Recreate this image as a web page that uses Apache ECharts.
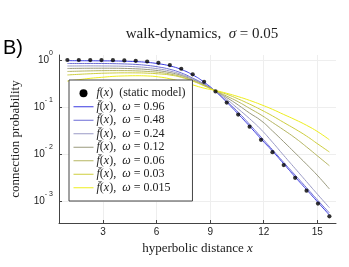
<!DOCTYPE html>
<html><head><meta charset="utf-8">
<script src="https://cdn.jsdelivr.net/npm/echarts@6/dist/echarts.min.js"></script>
<style>html,body{margin:0;padding:0;background:#fff}#c{width:349px;height:267px}</style>
</head><body><div id="c"></div>
<script>
const xs = [1.00, 1.64, 2.28, 2.91, 3.55, 4.19, 4.83, 5.47, 6.10, 6.74, 7.38, 8.02, 8.66, 9.30, 9.93, 10.57, 11.21, 11.85, 12.49, 13.12, 13.76, 14.40, 15.04, 15.68];
const staticModel = [0.999, 0.998, 0.997, 0.994, 0.989, 0.980, 0.961, 0.927, 0.868, 0.780, 0.651, 0.495, 0.342, 0.214, 0.124, 0.069, 0.038, 0.020, 0.0109, 0.0058, 0.0031, 0.00165, 0.00088, 0.00047];
const w096 = [0.966, 0.964, 0.962, 0.957, 0.953, 0.942, 0.923, 0.889, 0.832, 0.748, 0.628, 0.482, 0.337, 0.214, 0.126, 0.0708, 0.0389, 0.0209, 0.0115, 0.00617, 0.00324, 0.00174, 0.000933, 0.000501];
const w048 = [0.843, 0.843, 0.843, 0.841, 0.836, 0.824, 0.804, 0.767, 0.711, 0.634, 0.531, 0.412, 0.309, 0.214, 0.132, 0.0776, 0.0427, 0.0229, 0.0123, 0.00661, 0.00355, 0.00191, 0.00102, 0.000556];
const w024 = [0.745, 0.746, 0.748, 0.746, 0.743, 0.735, 0.719, 0.690, 0.646, 0.582, 0.495, 0.398, 0.302, 0.216, 0.145, 0.0912, 0.0562, 0.0331, 0.0178, 0.00933, 0.0049, 0.00257, 0.00135, 0.00072];
const w012 = [0.659, 0.664, 0.667, 0.668, 0.667, 0.661, 0.649, 0.627, 0.592, 0.540, 0.468, 0.380, 0.295, 0.219, 0.158, 0.110, 0.0741, 0.0513, 0.0309, 0.0182, 0.0105, 0.00603, 0.00339, 0.0018];
const w006 = [0.569, 0.578, 0.586, 0.592, 0.594, 0.593, 0.586, 0.571, 0.546, 0.504, 0.442, 0.363, 0.288, 0.219, 0.170, 0.129, 0.0933, 0.0676, 0.0468, 0.0324, 0.0219, 0.0141, 0.00891, 0.00562];
const w003 = [0.480, 0.495, 0.509, 0.521, 0.528, 0.532, 0.531, 0.524, 0.507, 0.479, 0.427, 0.355, 0.282, 0.221, 0.186, 0.148, 0.115, 0.0871, 0.0646, 0.0468, 0.0339, 0.024, 0.0162, 0.011];
const w0015 = [0.355, 0.380, 0.407, 0.427, 0.447, 0.457, 0.462, 0.457, 0.437, 0.398, 0.347, 0.295, 0.251, 0.224, 0.195, 0.166, 0.138, 0.112, 0.0891, 0.0692, 0.0537, 0.0407, 0.0295, 0.02];
const omegaLabels = ['0.96', '0.48', '0.24', '0.12', '0.06', '0.03', '0.015'];
const omegaSeries = [w096, w048, w024, w012, w006, w003, w0015];
const omegaColors = ['#3a3ae0', '#6c6cd6', '#9a9ac6', '#9a9a7e', '#b6b662', '#cece3e', '#eeee1e'];
const xTicks = [3, 6, 9, 12, 15];
const yTicks = [0.001, 0.01, 0.1, 1];

const serif = 'Liberation Serif';
const sans = 'Liberation Sans';
const pair = v => xs.map((x, i) => [x, v[i]]);
const staticName = 'static';
const lineNames = omegaLabels.map(w => 'w' + w);

const series = omegaSeries.map((v, k) => ({
  name: lineNames[k], type: 'line', data: pair(v), showSymbol: false, symbol: 'none',
  smooth: true, lineStyle: { color: omegaColors[k], width: 1 }, itemStyle: { color: omegaColors[k] }, z: 2
}));
series.push({
  name: staticName, type: 'scatter', data: pair(staticModel), symbol: 'circle', symbolSize: 4.2,
  itemStyle: { color: '#000' }, z: 3
});

const rich = {
  r: { fontFamily: serif, fontSize: 12, color: '#222' },
  i: { fontFamily: serif, fontSize: 12, fontStyle: 'italic', color: '#222' }
};

const chart = echarts.init(document.getElementById('c'), null, { renderer: 'canvas' });
chart.setOption({
  animation: false,
  backgroundColor: '#fff',
  title: {
    text: '{r|walk-dynamics,  }{i|σ}{r| = 0.05}', left: 197, top: 22, textAlign: 'center',
    textStyle: { fontWeight: 'normal', rich: {
      r: { fontFamily: serif, fontSize: 15, fontWeight: 'normal', color: '#222' },
      i: { fontFamily: serif, fontSize: 15, fontWeight: 'normal', fontStyle: 'italic', color: '#222' } } }
  },
  graphic: [{ type: 'text', left: 3, top: 38, style: { text: 'B)', fontFamily: sans, fontSize: 20, fill: '#000' } }],
  grid: { left: 59, right: 13, top: 55, bottom: 44, containLabel: false },
  legend: {
    orient: 'vertical', left: 69, top: 80, backgroundColor: '#fff', borderColor: '#444', borderWidth: 1,
    borderRadius: 0, padding: [7, 7, 7, 4], itemWidth: 20, itemHeight: 8, itemGap: 1,
    itemStyle: { opacity: 0 },
    lineStyle: { width: 1 },
    data: [{ name: staticName, icon: 'circle', itemStyle: { opacity: 1, color: '#000' } }].concat(lineNames.map(n => ({ name: n }))),
    formatter: name => name === staticName ? '{i|f}{r|(}{i|x}{r|)  (static model)}'
      : '{i|f\u0304}{r|(}{i|x}{r|),  }{i|ω}{r| = ' + name.slice(1) + '}',
    textStyle: { rich: rich, lineHeight: 12.5, padding: [0, 0, 0, -2] }
  },
  xAxis: {
    type: 'value', min: 0.53, max: 16.05,
    name: '{r|hyperbolic distance }{i|x}', nameLocation: 'middle', nameGap: 15,
    nameTextStyle: { rich: {
      r: { fontFamily: serif, fontSize: 13, color: '#222' },
      i: { fontFamily: serif, fontSize: 13, fontStyle: 'italic', color: '#222' } } },
    axisLine: { lineStyle: { color: '#444', width: 1 } },
    axisTick: { inside: true, length: 3, customValues: xTicks, lineStyle: { color: '#444' } },
    axisLabel: { customValues: xTicks, margin: 4, fontFamily: sans, fontSize: 10, color: '#222' },
    splitLine: { show: true, lineStyle: { color: '#eeeeee', width: 1 } }
  },
  yAxis: {
    type: 'log', logBase: 10, min: 0.000339, max: 1.276,
    name: 'connection probability', nameLocation: 'middle', nameGap: 37, nameRotate: 90,
    nameTextStyle: { fontFamily: serif, fontSize: 13, color: '#222' },
    axisLine: { show: true, lineStyle: { color: '#444', width: 1 } },
    axisTick: { show: true, inside: true, length: 3, customValues: yTicks, lineStyle: { color: '#444' } },
    axisLabel: {
      customValues: yTicks, margin: 6,
      formatter: v => { const e = Math.round(Math.log10(v)); return '{b|10}{s|' + (e < 0 ? '- ' + (-e) : e) + '}'; },
      rich: {
        b: { fontFamily: sans, fontSize: 10, color: '#222', padding: [5, 0, 5, 0] },
        s: { fontFamily: sans, fontSize: 7, color: '#222', verticalAlign: 'top', padding: [0, 0, 0, 0] }
      }
    },
    splitLine: { show: true, lineStyle: { color: '#eeeeee', width: 1 } }
  },
  series: series
});
</script></body></html>
